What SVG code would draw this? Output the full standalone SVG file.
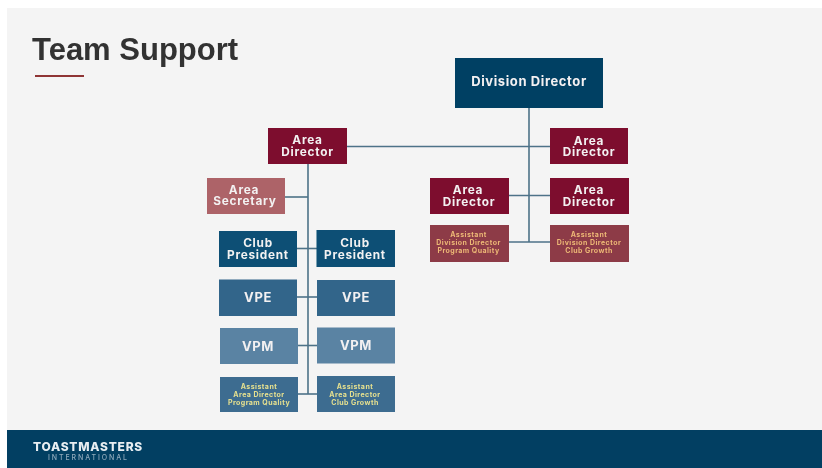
<svg xmlns="http://www.w3.org/2000/svg" width="822" height="468" viewBox="0 0 822 468">
<style>
.t{font-family:"Inter","Liberation Sans",sans-serif;font-weight:700;text-anchor:middle;fill:#f3f1f2;font-size:11.8px;letter-spacing:.75px}
.b{font-size:13px;letter-spacing:.6px}
.s{font-size:7px;letter-spacing:.45px}
.y{fill:#e6e08f}
.o{fill:#edb976}
.dd{fill:#033f63}
.ad{fill:#7d0f2f}
.sec{fill:#ad6468}
.cp{fill:#0a5074}
.vpe{fill:#33658a}
.vpm{fill:#5a83a3}
.aad{fill:#3d6c90}
.add{fill:#8d3a47}
.c line{stroke:#4d7288;stroke-width:1.6;fill:none}
</style>
<defs><filter id="b" x="-5%" y="-5%" width="110%" height="110%"><feGaussianBlur stdDeviation="0.55"/></filter></defs>
<rect width="822" height="468" fill="#ffffff"/>
<rect x="7" y="8" width="815" height="423" fill="#f4f4f4"/>
<rect x="7" y="430" width="815" height="38" fill="#023f62"/>
<g filter="url(#b)">
<text x="32" y="60" font-family="'Liberation Sans',sans-serif" font-weight="700" font-size="31" fill="#333333">Team Support</text>
<rect x="35" y="75" width="49" height="2" fill="#8f3535"/>
<g class="c" id="connectors">
<line x1="529" y1="108" x2="529" y2="242"/>
<line x1="347" y1="146.500" x2="550" y2="146.500"/>
<line x1="509" y1="195.500" x2="550" y2="195.500"/>
<line x1="509" y1="242" x2="550" y2="242"/>
<line x1="308" y1="164" x2="308" y2="394"/>
<line x1="285" y1="197" x2="308" y2="197"/>
<line x1="297" y1="248.500" x2="317" y2="248.500"/>
<line x1="297" y1="297" x2="317" y2="297"/>
<line x1="297" y1="345.500" x2="317" y2="345.500"/>
<line x1="298" y1="394" x2="317" y2="394"/>
</g>
<g id="division-director"><rect class="dd" x="455" y="58" width="148" height="50"/><text class="t b" x="529" y="86">Division Director</text></g>
<g id="area-director-main"><rect class="ad" x="268" y="128" width="79" height="36"/><text class="t" x="307.500" y="144">Area<tspan x="307.500" dy="11.500">Director</tspan></text></g>
<g id="area-secretary"><rect class="sec" x="207" y="178" width="78" height="36"/><text class="t" x="244" y="194">Area<tspan x="245" dy="11">Secretary</tspan></text></g>
<g id="area-director-r1"><rect class="ad" x="550" y="128" width="78" height="36"/><text class="t" x="589" y="144.500">Area<tspan x="589" dy="11">Director</tspan></text></g>
<g id="area-director-l2"><rect class="ad" x="430" y="178" width="79" height="36"/><text class="t" x="468" y="194">Area<tspan x="469" dy="11.500">Director</tspan></text></g>
<g id="area-director-r2"><rect class="ad" x="550" y="178" width="79" height="36"/><text class="t" x="589" y="194">Area<tspan x="589" dy="11.500">Director</tspan></text></g>
<g id="add-pq"><rect class="add" x="430" y="225" width="79" height="37"/><text class="t s o" x="468.500" y="237">Assistant<tspan x="468.500" dy="8">Division Director</tspan><tspan x="468.500" dy="8">Program Quality</tspan></text></g>
<g id="add-cg"><rect class="add" x="550" y="225" width="79" height="37"/><text class="t s o" x="589" y="237">Assistant<tspan x="589" dy="8">Division Director</tspan><tspan x="589" dy="8">Club Growth</tspan></text></g>
<g id="club-president-l"><rect class="cp" x="219" y="231" width="78" height="36"/><text class="t" x="258" y="247">Club<tspan x="258" dy="12">President</tspan></text></g>
<g id="club-president-r"><rect class="cp" x="316.500" y="230" width="78.500" height="37"/><text class="t" x="355" y="247">Club<tspan x="355" dy="12">President</tspan></text></g>
<g id="vpe-l"><rect class="vpe" x="219" y="279.500" width="78" height="36.500"/><text class="t b" x="258" y="302">VPE</text></g>
<g id="vpe-r"><rect class="vpe" x="317" y="280" width="78" height="36"/><text class="t b" x="356" y="302">VPE</text></g>
<g id="vpm-l"><rect class="vpm" x="220" y="328" width="78" height="36"/><text class="t b" x="258" y="351">VPM</text></g>
<g id="vpm-r"><rect class="vpm" x="317" y="327.500" width="78" height="36"/><text class="t b" x="356" y="350">VPM</text></g>
<g id="aad-pq"><rect class="aad" x="220" y="377" width="78" height="35"/><text class="t s y" x="259" y="389">Assistant<tspan x="259" dy="8">Area Director</tspan><tspan x="259" dy="8">Program Quality</tspan></text></g>
<g id="aad-cg"><rect class="aad" x="317" y="376" width="78" height="36"/><text class="t s y" x="355" y="389">Assistant<tspan x="355" dy="8">Area Director</tspan><tspan x="355" dy="8">Club Growth</tspan></text></g>
<text x="33" y="451" font-family="Inter,'Liberation Sans',sans-serif" font-weight="800" font-size="12" letter-spacing=".75" fill="#e8eef2">TOASTMASTERS</text>
<text x="48" y="460" font-family="Inter,'Liberation Sans',sans-serif" font-weight="500" font-size="7" letter-spacing="1.9" fill="#8fa9bb">INTERNATIONAL</text>
</g>
</svg>
